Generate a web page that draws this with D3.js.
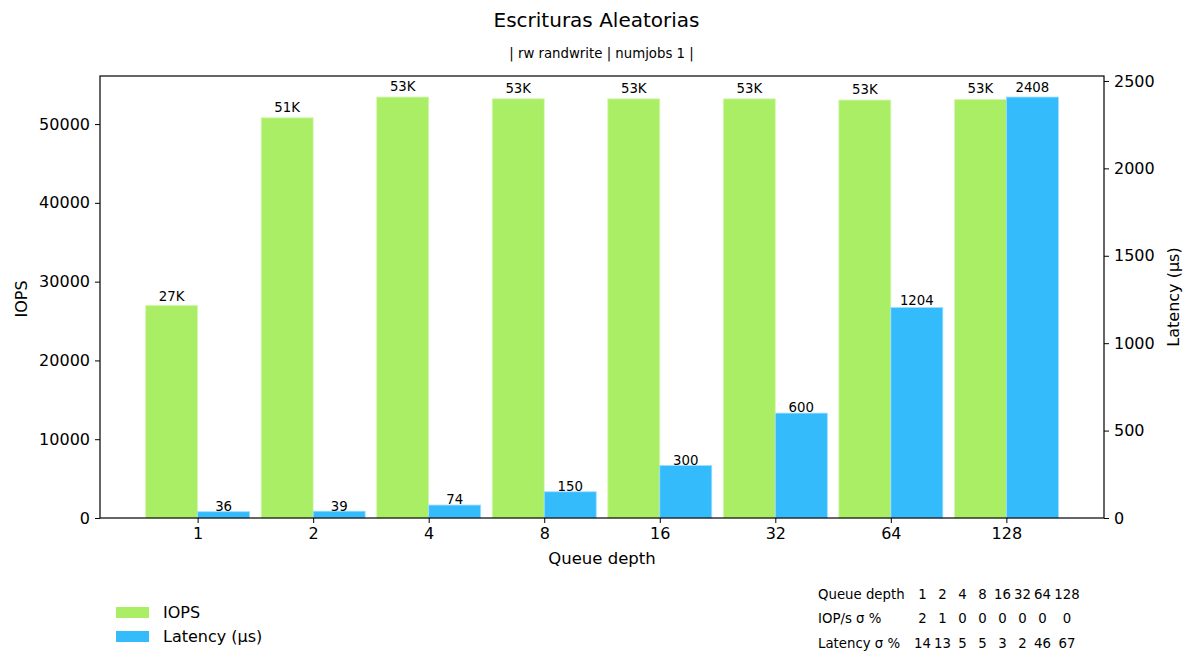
<!DOCTYPE html>
<html>
<head>
<meta charset="utf-8">
<script src="https://cdn.jsdelivr.net/npm/d3@7"></script>
<style>
  html, body { margin: 0; padding: 0; background: #fff; }
  svg { display: block; font-family: "DejaVu Sans", sans-serif; }
</style>
</head>
<body>
<svg id="chart" width="1193" height="664"></svg>
<script>
// Random-write benchmark: IOPS and latency per queue depth
const queueDepths = ["1", "2", "4", "8", "16", "32", "64", "128"];
const iops = [26980, 50800, 53430, 53210, 53200, 53200, 53050, 53120];
const latency = [36, 39, 74, 150, 300, 600, 1204, 2408];
const iopsLabels = ["27K", "51K", "53K", "53K", "53K", "53K", "53K", "53K"];
const iopsTicks = [0, 10000, 20000, 30000, 40000, 50000];
const latencyTicks = [0, 500, 1000, 1500, 2000, 2500];
const iopsStdPct = ["2", "1", "0", "0", "0", "0", "0", "0"];
const latencyStdPct = ["14", "13", "5", "5", "3", "2", "46", "67"];

const title = "Escrituras Aleatorias";
const subtitle = "| rw randwrite | numjobs 1 |";

const GREEN = "#aaee66";
const BLUE = "#33bbfb";
const barW = 0.45;

const svg = d3.select("#chart");
const plot = { left: 100, right: 1104, top: 76, bottom: 518 };

const n = queueDepths.length;
const pad = (n - 1 + 2 * barW) * 0.05;
const x = d3.scaleLinear()
  .domain([-barW - pad, n - 1 + barW + pad])
  .range([plot.left, plot.right]);
const yL = d3.scaleLinear().domain([0, d3.max(iops) * 1.05]).range([plot.bottom, plot.top]);
const yR = d3.scaleLinear().domain([0, d3.max(latency) * 1.05]).range([plot.bottom, plot.top]);

// Titles
svg.append("text").attr("x", 596.5).attr("y", 27).attr("text-anchor", "middle")
  .attr("font-size", 20).attr("fill", "#000").text(title);
svg.append("text").attr("x", 601.5).attr("y", 58).attr("text-anchor", "middle")
  .attr("font-size", 13.3).attr("fill", "#000").text(subtitle);

// Bars
const g = svg.append("g");
g.selectAll("rect.iops").data(iops).join("rect")
  .attr("class", "iops")
  .attr("x", (d, i) => x(i - barW))
  .attr("width", (d, i) => x(i) - x(i - barW))
  .attr("y", d => yL(d))
  .attr("height", d => yL(0) - yL(d))
  .attr("fill", GREEN)
  .attr("stroke", "#d4f7b0").attr("stroke-width", 0.8);

g.selectAll("rect.lat").data(latency).join("rect")
  .attr("class", "lat")
  .attr("x", (d, i) => x(i))
  .attr("width", (d, i) => x(i + barW) - x(i))
  .attr("y", d => yR(d))
  .attr("height", d => yR(0) - yR(d))
  .attr("fill", BLUE)
  .attr("stroke", "#9ddcff").attr("stroke-width", 0.8);

// Bar value labels
g.selectAll("text.iopsLbl").data(iops).join("text")
  .attr("class", "iopsLbl")
  .attr("x", (d, i) => x(i - barW / 2))
  .attr("y", d => yL(d * 1.01) - 2)
  .attr("text-anchor", "middle").attr("font-size", 13.3).attr("fill", "#000")
  .text((d, i) => iopsLabels[i]);

g.selectAll("text.latLbl").data(latency).join("text")
  .attr("class", "latLbl")
  .attr("x", (d, i) => x(i + barW / 2))
  .attr("y", d => yR(d * 1.01) - 0.5)
  .attr("text-anchor", "middle").attr("font-size", 13.3).attr("fill", "#000")
  .text(d => d);

// Axes
const xAxis = d3.axisBottom(x).tickValues(d3.range(n)).tickFormat(i => queueDepths[i])
  .tickSizeOuter(0).tickSize(5).tickPadding(5);
const yAxisL = d3.axisLeft(yL).tickValues(iopsTicks).tickFormat(d3.format("d"))
  .tickSizeOuter(0).tickSize(5).tickPadding(5);
const yAxisR = d3.axisRight(yR).tickValues(latencyTicks).tickFormat(d3.format("d"))
  .tickSizeOuter(0).tickSize(5).tickPadding(5);

function styleAxis(sel) {
  sel.selectAll("text").attr("font-size", 16).attr("fill", "#000").attr("font-family", "DejaVu Sans");
  sel.selectAll("line").attr("stroke", "#000").attr("stroke-width", 1);
  sel.select(".domain").remove();
}
svg.append("g").attr("transform", `translate(0,${plot.bottom})`).call(xAxis).call(styleAxis);
svg.append("g").attr("transform", `translate(${plot.left},0)`).call(yAxisL).call(styleAxis);
svg.append("g").attr("transform", `translate(${plot.right},0)`).call(yAxisR).call(styleAxis);

// Frame
svg.append("rect")
  .attr("x", plot.left).attr("y", plot.top)
  .attr("width", plot.right - plot.left).attr("height", plot.bottom - plot.top)
  .attr("fill", "none").attr("stroke", "#000").attr("stroke-width", 1.2);

// Axis titles
svg.append("text").attr("x", (plot.left + plot.right) / 2).attr("y", 564)
  .attr("text-anchor", "middle").attr("font-size", 16.5).attr("fill", "#000").text("Queue depth");
svg.append("text").attr("transform", `translate(27,${(plot.top + plot.bottom) / 2 + 2}) rotate(-90)`)
  .attr("text-anchor", "middle").attr("font-size", 16).attr("fill", "#000").text("IOPS");
svg.append("text").attr("transform", `translate(1179,${(plot.top + plot.bottom) / 2}) rotate(-90)`)
  .attr("text-anchor", "middle").attr("font-size", 16).attr("fill", "#000").text("Latency (µs)");

// Legend
const legendItems = [
  { label: "IOPS", color: GREEN },
  { label: "Latency (µs)", color: BLUE }
];
const legend = svg.append("g").attr("transform", "translate(116,607)");
legendItems.forEach((it, i) => {
  const row = legend.append("g").attr("transform", `translate(0,${i * 24})`);
  row.append("rect").attr("width", 33).attr("height", 11).attr("fill", it.color);
  row.append("text").attr("x", 47).attr("y", 11).attr("font-size", 16).attr("fill", "#000").text(it.label);
});

// Standard-deviation table
const tableRows = [
  { label: "Queue depth", cells: queueDepths },
  { label: "IOP/s σ %", cells: iopsStdPct },
  { label: "Latency σ %", cells: latencyStdPct }
];
const colX = [922.5, 942.5, 962.5, 982.5, 1002.5, 1022.5, 1042.5, 1067];
const table = svg.append("g");
tableRows.forEach((r, ri) => {
  const yy = 599 + ri * 24.3;
  table.append("text").attr("x", 818).attr("y", yy).attr("font-size", 13.3).attr("fill", "#000").text(r.label);
  r.cells.forEach((c, ci) => {
    table.append("text").attr("x", colX[ci]).attr("y", yy).attr("text-anchor", "middle")
      .attr("font-size", 13.3).attr("fill", "#000").text(c);
  });
});
</script>
</body>
</html>
